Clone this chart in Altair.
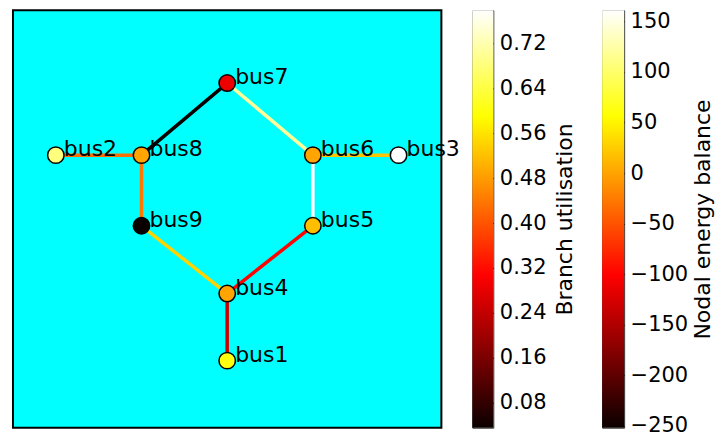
import altair as alt
import pandas as pd

# ---- data ----
buses = ["bus1", "bus2", "bus3", "bus4", "bus5", "bus6", "bus7", "bus8", "bus9"]
bus_x = [2, 0, 4, 2, 3, 3, 2, 1, 1]
bus_y = [0.94, 3.82, 3.82, 1.88, 2.83, 3.82, 4.83, 3.82, 2.83]
balance = [62, 108, 161, 0, 16, 0, -112, 0, -252]

branch_from = ["bus1", "bus4", "bus5", "bus6", "bus6", "bus7", "bus8", "bus8", "bus9"]
branch_to = ["bus4", "bus5", "bus6", "bus3", "bus7", "bus8", "bus2", "bus9", "bus4"]
utilisation = [0.248, 0.31, 0.779, 0.527, 0.703, 0.036, 0.43, 0.44, 0.54]

util_range = [0.0356, 0.7787]
util_ticks = [0.08, 0.16, 0.24, 0.32, 0.40, 0.48, 0.56, 0.64, 0.72]
bal_range = [-252, 161]
bal_ticks = [-250, -200, -150, -100, -50, 0, 50, 100, 150]

# matplotlib "hot" colormap anchor points
hot_pos = [0.0, 0.365, 0.746, 1.0]
hot_cols = ["#0b0000", "#ff0000", "#ffff00", "#ffffff"]

FONT = "DejaVu Sans"
FS = 22
LFS = 21


def piecewise(r):
    return [r[0] + p * (r[1] - r[0]) for p in hot_pos]


pos = {b: (x, y) for b, x, y in zip(buses, bus_x, bus_y)}
nodes = pd.DataFrame({"bus": buses, "x": bus_x, "y": bus_y, "balance": balance})
edges = pd.DataFrame({
    "from": branch_from, "to": branch_to, "util": utilisation,
    "x": [pos[a][0] for a in branch_from], "y": [pos[a][1] for a in branch_from],
    "x2": [pos[b][0] for b in branch_to], "y2": [pos[b][1] for b in branch_to],
})

xs = alt.Scale(domain=[-0.5, 4.5], nice=False, zero=False)
ys = alt.Scale(domain=[0, 5.85], nice=False, zero=False)

util_scale = alt.Scale(domain=piecewise(util_range), range=hot_cols, interpolate="rgb")
bal_scale = alt.Scale(domain=piecewise(bal_range), range=hot_cols, interpolate="rgb")

edge_layer = alt.Chart(edges).mark_rule(strokeWidth=3.5).encode(
    x=alt.X("x:Q", scale=xs, axis=None),
    y=alt.Y("y:Q", scale=ys, axis=None),
    x2="x2:Q", y2="y2:Q",
    color=alt.Color("util:Q", scale=util_scale, legend=None),
)
node_layer = alt.Chart(nodes).mark_circle(size=270, opacity=1, stroke="black", strokeWidth=1.5).encode(
    x=alt.X("x:Q", scale=xs, axis=None),
    y=alt.Y("y:Q", scale=ys, axis=None),
    fill=alt.Fill("balance:Q", scale=bal_scale, legend=None),
)
label_layer = alt.Chart(nodes).mark_text(
    align="left", baseline="alphabetic", dx=8, dy=1, font=FONT, fontSize=FS, color="black"
).encode(
    x=alt.X("x:Q", scale=xs, axis=None),
    y=alt.Y("y:Q", scale=ys, axis=None),
    text="bus:N",
)
network = alt.layer(edge_layer, node_layer, label_layer).resolve_scale(
    color="independent", fill="independent"
).properties(
    width=429, height=418,
    view=alt.ViewBackground(fill="#00ffff", stroke="black", strokeWidth=2),
)


def colorbar(rng, ticks, title, fmt, w, tpad):
    df = pd.DataFrame({"lo": [rng[0]], "hi": [rng[1]]})
    grad = alt.Gradient(
        gradient="linear",
        stops=[alt.GradientStop(offset=p, color=c) for p, c in zip(hot_pos, hot_cols)],
        x1=0, y1=1, x2=0, y2=0,
    )
    return alt.Chart(df).mark_rect(fill=grad).encode(
        x=alt.value(0), x2=alt.value(w),
        y=alt.Y("lo:Q", scale=alt.Scale(domain=rng, nice=False, zero=False),
                axis=alt.Axis(orient="right", values=ticks, format=fmt, title=title,
                              domain=False, grid=False, offset=-5, tickSize=5,
                              tickColor="black", tickWidth=1, labelPadding=6,
                              labelFont=FONT, labelFontSize=LFS, labelColor="black",
                              labelFontWeight="normal", titleFont=FONT, titleFontSize=FS,
                              titleFontWeight="normal", titleColor="black",
                              titleAngle=270, titleBaseline="top", titlePadding=tpad,
                              labelOverlap=False, labelFlush=False)),
        y2="hi:Q",
    ).properties(
        width=w, height=418,
        view=alt.ViewBackground(stroke="#333333", strokeWidth=1),
    )


cb1 = colorbar(util_range, util_ticks, "Branch utilisation", ".2f", 21, 9)
cb2 = colorbar(bal_range, bal_ticks, "Nodal energy balance", "d", 22, 5)

chart = alt.hconcat(network, alt.hconcat(cb1, cb2, spacing=24), spacing=10).properties(
    padding={"left": 12, "top": 9, "right": 0, "bottom": 0},
    background="white",
)

chart.save("out.html", embed_options={"renderer": "svg", "actions": False})
